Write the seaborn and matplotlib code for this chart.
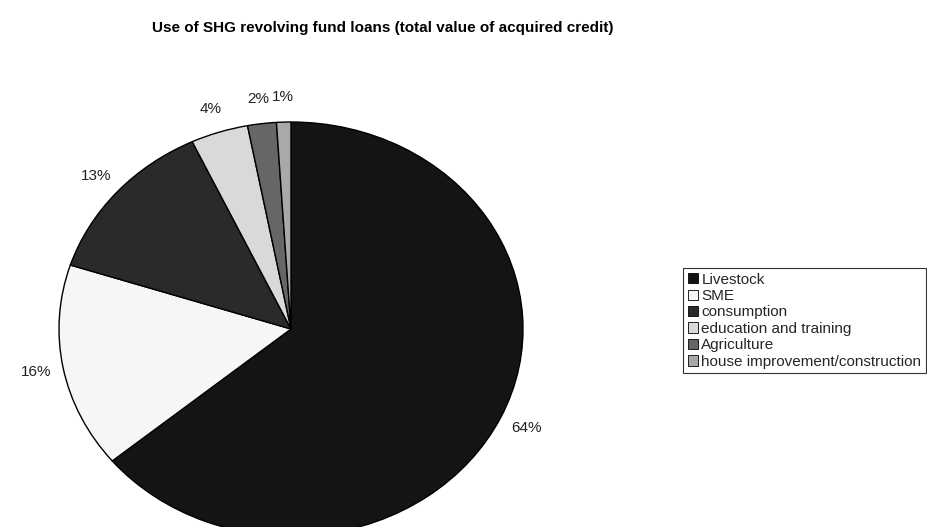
import matplotlib
matplotlib.use("Agg")
import matplotlib.pyplot as plt
import seaborn as sns

# Share of total acquired credit by loan use (%)
categories = ["Livestock", "SME", "consumption", "education and training",
              "Agriculture", "house improvement/construction"]
shares = [64, 16, 13, 4, 2, 1]
labels = [f"{v}%" for v in shares]
title = "Use of SHG revolving fund loans (total value of acquired credit)"

sns.set_theme(style="white")
plt.rcParams["font.family"] = ["Liberation Sans", "DejaVu Sans"]

slice_colors = ["#141414", "#f6f6f6", "#2a2a2a", "#d9d9d9", "#666666", "#a9a9a9"]

W, H = 928, 527
fig = plt.figure(figsize=(W / 100, H / 100), dpi=100)
fig.patch.set_facecolor("white")

# Elliptical pie: horizontal radius 232 px, vertical radius 207 px
cx, cy, rx, ry = 291, 329, 232, 207
ax = fig.add_axes([(cx - rx) / W, (H - cy - ry) / H, 2 * rx / W, 2 * ry / H])

wedges, texts = ax.pie(
    shares,
    labels=labels,
    colors=slice_colors,
    startangle=90,
    counterclock=False,
    labeldistance=1.12,
    wedgeprops=dict(edgecolor="black", linewidth=1.0),
    textprops=dict(fontsize=11, color="#222222"),
)
for t in texts:
    t.set_horizontalalignment("center")
    t.set_verticalalignment("center")

ax.set_aspect("auto")
ax.set_xlim(-1, 1)
ax.set_ylim(-1, 1)
ax.axis("off")

fig.text(383 / W, 1 - 28 / H, title, ha="center", va="center",
         fontsize=11, fontweight="bold", color="black")

leg = fig.legend(
    wedges, categories,
    loc="upper left",
    bbox_to_anchor=(683 / W, 1 - 268 / H),
    frameon=True,
    fancybox=False,
    shadow=False,
    fontsize=11,
    handlelength=0.65,
    handleheight=0.65,
    handletextpad=0.25,
    labelspacing=0.16,
    borderpad=0.3,
    borderaxespad=0,
)
leg.get_frame().set_edgecolor("black")
leg.get_frame().set_linewidth(0.8)
for h in leg.legend_handles:
    h.set_linewidth(0.6)

fig.savefig("out.png", dpi=100, facecolor="white")
